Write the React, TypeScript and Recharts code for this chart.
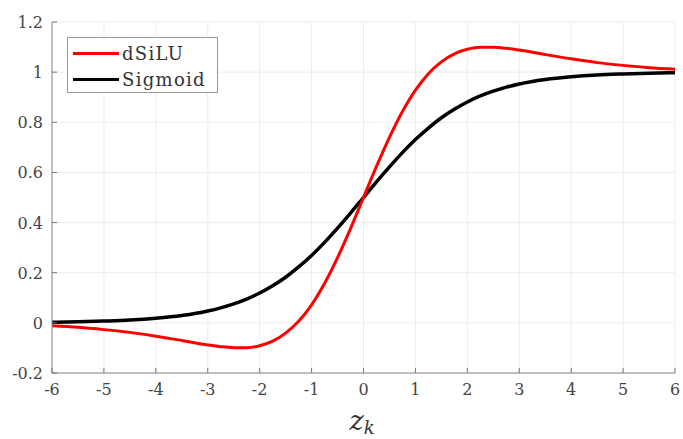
import { LineChart, Line, XAxis, YAxis, CartesianGrid, Label } from "recharts";

const xs = [-6, -5.5, -5, -4.5, -4, -3.5, -3, -2.75, -2.5, -2.25, -2, -1.75, -1.5, -1.25, -1, -0.75, -0.5, -0.25, 0,
  0.25, 0.5, 0.75, 1, 1.25, 1.5, 1.75, 2, 2.25, 2.5, 2.75, 3, 3.5, 4, 4.5, 5, 5.5, 6];
const dsilu = [-0.012, -0.018, -0.027, -0.038, -0.053, -0.07, -0.088, -0.095, -0.099, -0.099, -0.091, -0.073, -0.041, 0.006, 0.072, 0.157, 0.26, 0.376, 0.5,
  0.624, 0.74, 0.843, 0.928, 0.994, 1.041, 1.073, 1.091, 1.099, 1.099, 1.095, 1.088, 1.07, 1.053, 1.038, 1.027, 1.018, 1.012];
const sigmoid = [0.002, 0.004, 0.007, 0.011, 0.018, 0.029, 0.047, 0.06, 0.076, 0.095, 0.119, 0.148, 0.182, 0.223, 0.269, 0.321, 0.378, 0.438, 0.5,
  0.562, 0.622, 0.679, 0.731, 0.777, 0.818, 0.852, 0.881, 0.905, 0.924, 0.94, 0.953, 0.971, 0.982, 0.989, 0.993, 0.996, 0.998];
const xTicks = [-6, -5, -4, -3, -2, -1, 0, 1, 2, 3, 4, 5, 6];
const yTicks = [-0.2, 0, 0.2, 0.4, 0.6, 0.8, 1, 1.2];

const data = xs.map((x, i) => ({ x, dsilu: dsilu[i], sigmoid: sigmoid[i] }));

const serif = "DejaVu Serif";
const axisLine = { stroke: "#888", strokeWidth: 1 };

// inward tick mark + serif label, MATLAB style
function XTick(props: any) {
  const { x, y, payload } = props;
  return (
    <g>
      <line x1={x} x2={x} y1={y - 13} y2={y - 8} stroke="#777" />
      <text x={x} y={y + 14} textAnchor="middle" fontFamily={serif} fontSize={16} fill="#444">{payload.value}</text>
    </g>
  );
}

function YTick(props: any) {
  const { x, y, payload } = props;
  return (
    <g>
      <line x1={x + 8} x2={x + 13} y1={y} y2={y} stroke="#777" />
      <text x={x - 1} y={y + 6} textAnchor="end" fontFamily={serif} fontSize={16} fill="#444">{payload.value}</text>
    </g>
  );
}

const legendItems = [
  { name: "dSiLU", color: "#ff0000" },
  { name: "Sigmoid", color: "#000000" },
];

function LegendBox() {
  return (
    <div style={{ position: "absolute", left: 67, top: 37, width: 151, height: 56, border: "1px solid #999", background: "#fff", boxSizing: "border-box" }}>
      {legendItems.map((it, i) => (
        <div key={it.name} style={{ position: "absolute", left: 5, top: 4 + i * 26, height: 22, display: "flex", alignItems: "center" }}>
          <div style={{ width: 46, height: 3, background: it.color }} />
          <span style={{ marginLeft: 3, fontFamily: serif, fontSize: 18, letterSpacing: 1.3, color: "#333" }}>{it.name}</span>
        </div>
      ))}
    </div>
  );
}

export default function App() {
  return (
    <div style={{ position: "fixed", left: 0, top: 0, width: 683, height: 439, background: "#fff" }}>
      <LineChart width={683} height={439} data={data} margin={{ top: 22, right: 8, bottom: 36, left: 0 }}>
        <CartesianGrid stroke="#ececec" />
        <XAxis dataKey="x" type="number" domain={[-6, 6]} ticks={xTicks} tick={XTick} tickLine={false} axisLine={axisLine} height={30}>
          <Label
            content={() => (
              <text x={362} y={430} textAnchor="middle" fontFamily={serif} fontStyle="italic" fill="#333">
                <tspan fontSize={27}>z</tspan>
                <tspan fontSize={18} dy={4}>k</tspan>
              </text>
            )}
          />
        </XAxis>
        <YAxis type="number" domain={[-0.2, 1.2]} ticks={yTicks} tick={YTick} tickLine={false} axisLine={axisLine} width={52} />
        <Line type="monotone" dataKey="sigmoid" stroke="#000" strokeWidth={3.5} dot={false} isAnimationActive={false} />
        <Line type="monotone" dataKey="dsilu" stroke="#ff0000" strokeWidth={3} dot={false} isAnimationActive={false} />
      </LineChart>
      <LegendBox />
    </div>
  );
}
